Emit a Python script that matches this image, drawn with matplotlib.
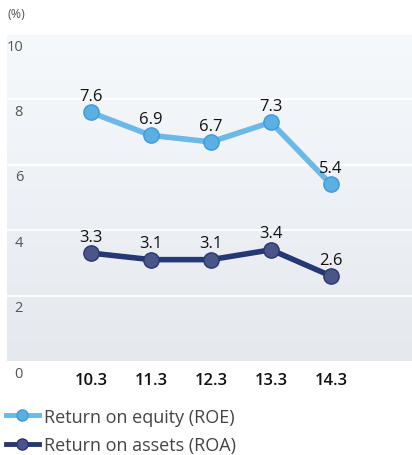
import matplotlib
matplotlib.use("Agg")
import matplotlib.pyplot as plt
import matplotlib.transforms as mtransforms
from matplotlib.lines import Line2D
import numpy as np

plt.rcParams['font.family'] = ['Open Sans', 'DejaVu Sans']

categories = ["10.3", "11.3", "12.3", "13.3", "14.3"]
roe = [7.6, 6.9, 6.7, 7.3, 5.4]
roa = [3.3, 3.1, 3.1, 3.4, 2.6]
yticks = [0, 2, 4, 6, 8, 10]
ytick_labels = ["0", "2", "4", "6", "8", "10"]
series_labels = ["Return on equity (ROE)", "Return on assets (ROA)"]

W, H = 412, 456
fig = plt.figure(figsize=(W / 100, H / 100), dpi=100)
ax = fig.add_axes([7 / W, 1 - 362 / H, 1 - 7 / W, (362 - 35) / H])

x = np.arange(len(categories))
ax.set_xlim(-1.4, 5.35)
ax.set_ylim(0, 10)

# gradient background
grad = np.linspace(0, 1, 256).reshape(-1, 1)
top = np.array([246, 249, 252]) / 255
bot = np.array([229, 233, 238]) / 255
img = top[None, None, :] * (1 - grad[:, :, None]) + bot[None, None, :] * grad[:, :, None]
ax.imshow(img, extent=[0, 1, 0, 1], transform=ax.transAxes, aspect='auto', zorder=0)

for yv in yticks[1:]:
    ax.axhline(yv, color='white', lw=1.3, zorder=1)

for s in ax.spines.values():
    s.set_visible(False)
ax.set_yticks([])
ax.set_xticks(x)
ax.set_xticklabels(categories, fontsize=12, color='#111111', fontweight='semibold')
ax.tick_params(axis='x', length=0, pad=8)

# y labels below gridlines
off = mtransforms.ScaledTranslation(0, -12 / 100, fig.dpi_scale_trans)
trans = mtransforms.blended_transform_factory(fig.transFigure, ax.transData) + off
for yv, lab in zip(yticks, ytick_labels):
    ax.text(23 / W, yv, lab, transform=trans, ha='right', va='center',
            fontsize=10.5, color='#555555', clip_on=False)

fig.text(7 / W, 1 - 15 / H, "(%)", fontsize=9, color='#555555', ha='left', va='center')

c_roe, c_roe_m, c_roe_e = '#6cb8e6', '#5aafe3', '#3f9ad6'
c_roa, c_roa_m, c_roa_e = '#253873', '#4a5589', '#2a376e'

ax.plot(x, roe, color=c_roe, lw=4, zorder=3, solid_capstyle='round')
ax.plot(x, roe, 'o', ms=11, mfc=c_roe_m, mec=c_roe_e, mew=1, zorder=4)
ax.plot(x, roa, color=c_roa, lw=4, zorder=3, solid_capstyle='round')
ax.plot(x, roa, 'o', ms=11, mfc=c_roa_m, mec=c_roa_e, mew=1, zorder=4)

for xi, v in zip(x, roe):
    ax.annotate(f"{v:.1f}", (xi, v), xytext=(0, 6), textcoords='offset points',
                ha='center', va='bottom', fontsize=12, color='#111111', zorder=5)
for xi, v in zip(x, roa):
    ax.annotate(f"{v:.1f}", (xi, v), xytext=(0, 6), textcoords='offset points',
                ha='center', va='bottom', fontsize=12, color='#111111', zorder=5)

handles = [
    Line2D([], [], color=c_roe, lw=3.5, marker='o', ms=8, mfc=c_roe_m, mec=c_roe_e),
    Line2D([], [], color=c_roa, lw=3.5, marker='o', ms=8, mfc=c_roa_m, mec=c_roa_e),
]
fig.legend(handles, series_labels, loc='upper left', bbox_to_anchor=(2 / W, 1 - 405 / H),
           frameon=False, fontsize=13, handlelength=1.85, handletextpad=0.25,
           labelspacing=0.6, borderaxespad=0, borderpad=0.2, labelcolor='#444444')

fig.savefig("out.png", dpi=100)
